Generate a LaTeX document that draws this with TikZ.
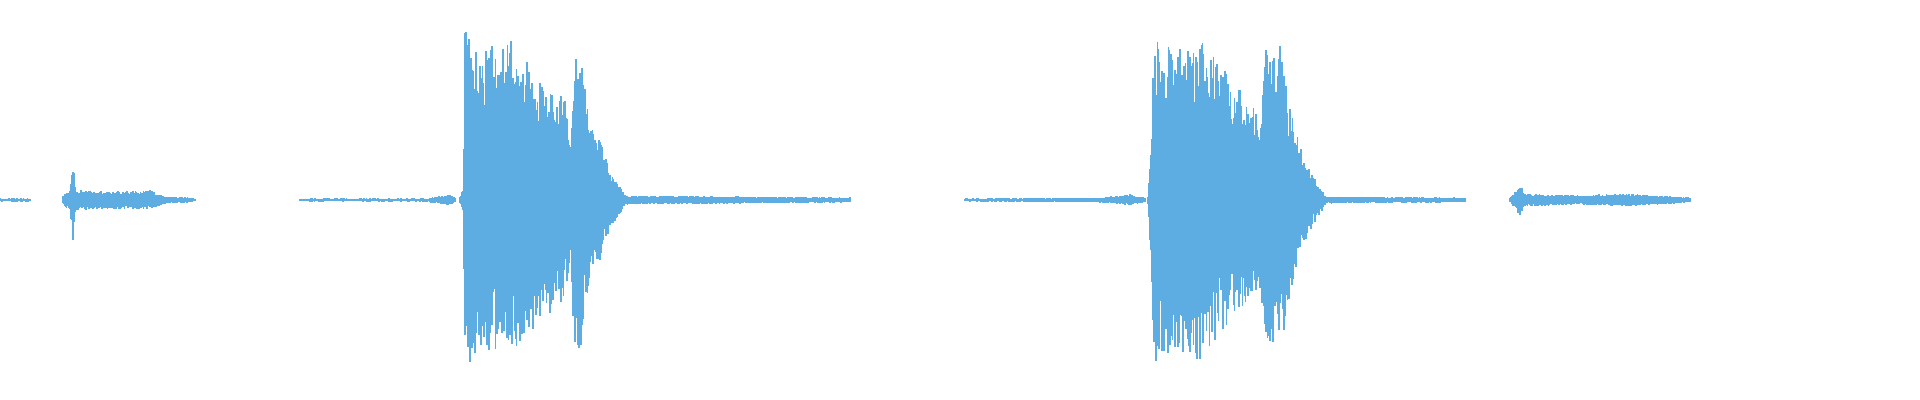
\documentclass[tikz,border=0pt]{standalone}
\usepackage{tikz}
\definecolor{wave}{RGB}{93,173,226}
\tikzset{sample/.style={draw=wave, line width=0.5pt}}
\begin{document}
\begin{tikzpicture}[x=0.01cm, y=0.01cm]
		% Frame:
		\useasboundingbox (0, 0) rectangle (1920, 400);
		\fill[white] (0, 0) rectangle (1920, 400);
		\pgfmathsetseed{7}
		% Envelope segments x1/a1/x2/a2:
		\foreach \xa/\aa/\xb/\ab in {0/1/30/1, 63/4/70/10, 70/10/73/42, 73/42/76/10, 76/10/110/8, 110/8/150/9, 150/9/165/3, 165/3/180/2, 180/3/195/1,
				300/1/430/1, 430/2/450/5, 450/5/455/2,
				460/3/463/10, 463/10/465/170, 465/170/480/150, 480/150/510/160, 510/160/540/120, 540/120/565/100, 565/100/570/60, 570/60/575/150, 575/150/580/155, 580/155/590/80, 590/80/600/60, 600/60/610/30, 610/30/625/5, 625/4/850/2,
				965/1/1100/1.5, 1100/2/1130/5, 1130/5/1145/2,
				1148/5/1155/165, 1155/165/1175/150, 1175/150/1200/160, 1200/160/1240/110, 1240/110/1260/90, 1260/90/1265/150, 1265/150/1280/155, 1280/155/1295/70, 1295/70/1310/30, 1310/30/1325/5, 1325/3/1465/2,
				1510/2/1520/15, 1520/15/1525/6, 1525/6/1580/4, 1580/4/1620/6, 1620/6/1660/4, 1660/4/1690/2}{
			\pgfmathtruncatemacro\n{max((\xb-\xa)/0.8,1)}
			\foreach \i in {0,...,\n}{
				\pgfmathsetmacro\t{\i/\n}
				\pgfmathsetmacro\xx{\xa+(\xb-\xa)*\t}
				\pgfmathsetmacro\amp{\aa+(\ab-\aa)*\t}
				\pgfmathsetmacro\up{\amp*(0.55+0.45*rnd)+0.6}
				\pgfmathsetmacro\dn{\amp*(0.55+0.45*rnd)+0.6}
				\draw[sample] (\xx, 200+\up) -- (\xx, 200-\dn);
			}
		}
	\end{tikzpicture}
\end{document}
